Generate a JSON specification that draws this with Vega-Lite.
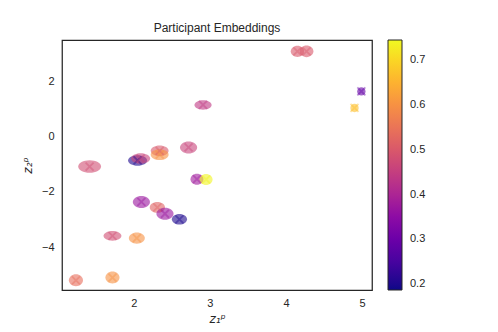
{
  "$schema": "https://vega.github.io/schema/vega-lite/v6.json",
  "width": 310,
  "height": 250,
  "autosize": {"type": "none"},
  "padding": {"left": 62, "top": 40, "right": 126, "bottom": 42},
  "title": {"text": "Participant Embeddings", "fontSize": 12, "fontWeight": "normal", "color": "#262626", "font": "Liberation Sans", "baseline": "alphabetic", "offset": -4},
  "data": {"values": [
    {"x": 4.15, "y": 3.09, "c": 0.50, "w": 0.175, "a": "0.85"},
    {"x": 4.27, "y": 3.09, "c": 0.50, "w": 0.18, "a": "0.85"},
    {"x": 4.99, "y": 1.64, "c": 0.29, "w": 0.11, "a": "1.00"},
    {"x": 4.90, "y": 1.04, "c": 0.67, "w": 0.11, "a": "1.00"},
    {"x": 2.91, "y": 1.15, "c": 0.44, "w": 0.225, "a": "0.55"},
    {"x": 2.72, "y": -0.39, "c": 0.46, "w": 0.225, "a": "0.70"},
    {"x": 2.34, "y": -0.51, "c": 0.50, "w": 0.235, "a": "0.60"},
    {"x": 2.34, "y": -0.65, "c": 0.60, "w": 0.235, "a": "0.60"},
    {"x": 2.05, "y": -0.86, "c": 0.20, "w": 0.25, "a": "0.55"},
    {"x": 2.09, "y": -0.79, "c": 0.46, "w": 0.25, "a": "0.55"},
    {"x": 1.42, "y": -1.08, "c": 0.48, "w": 0.30, "a": "0.55"},
    {"x": 2.83, "y": -1.54, "c": 0.38, "w": 0.17, "a": "0.85"},
    {"x": 2.95, "y": -1.55, "c": 0.74, "w": 0.17, "a": "0.85"},
    {"x": 2.10, "y": -2.36, "c": 0.37, "w": 0.225, "a": "0.70"},
    {"x": 2.31, "y": -2.56, "c": 0.52, "w": 0.20, "a": "0.70"},
    {"x": 2.41, "y": -2.79, "c": 0.37, "w": 0.225, "a": "0.70"},
    {"x": 2.60, "y": -2.99, "c": 0.20, "w": 0.20, "a": "0.70"},
    {"x": 1.72, "y": -3.59, "c": 0.48, "w": 0.235, "a": "0.55"},
    {"x": 2.04, "y": -3.67, "c": 0.60, "w": 0.21, "a": "0.70"},
    {"x": 1.72, "y": -5.10, "c": 0.60, "w": 0.185, "a": "0.85"},
    {"x": 1.24, "y": -5.20, "c": 0.54, "w": 0.185, "a": "0.85"}
  ]},
  "encoding": {
    "x": {"field": "x", "type": "quantitative",
      "scale": {"domain": [1.057, 5.13], "nice": false, "zero": false},
      "axis": {"values": [2, 3, 4, 5], "title": "z₁ᵖ", "titleFont": "DejaVu Sans", "titleFontStyle": "italic", "titleFontWeight": "normal", "titleFontSize": 12, "titleColor": "#262626", "titlePadding": 5}},
    "y": {"field": "y", "type": "quantitative",
      "scale": {"domain": [-5.55, 3.5], "nice": false, "zero": false},
      "axis": {"values": [-4, -2, 0, 2], "title": "z₂ᵖ", "titleFont": "DejaVu Sans", "titleFontStyle": "italic", "titleFontWeight": "normal", "titleFontSize": 12, "titleColor": "#262626", "titlePadding": 7}}
  },
  "layer": [
    {
      "mark": {"type": "point", "filled": true, "fillOpacity": 0.6, "strokeWidth": 0},
      "encoding": {
        "color": {"field": "c", "type": "quantitative",
          "scale": {"type": "linear", "scheme": "plasma", "domain": [0.187, 0.745]},
          "legend": {"type": "gradient", "title": null, "values": [0.2, 0.3, 0.4, 0.5, 0.6, 0.7], "format": ".1f", "gradientLength": 250, "gradientThickness": 14, "offset": 16, "labelOffset": 8, "labelFontSize": 11, "labelColor": "#262626", "labelFont": "Liberation Sans", "gradientStrokeColor": "#262626", "gradientStrokeWidth": 1, "labelOverlap": false}},
        "size": {"field": "w", "type": "quantitative", "scale": {"type": "pow", "exponent": 2, "domain": [0, 0.32], "range": [0, 595], "zero": true}, "legend": null},
        "shape": {"field": "a", "type": "ordinal",
          "scale": {"domain": ["1.00", "0.85", "0.70", "0.60", "0.55"],
            "range": [
              "M -1 0 C -1 -0.552 -0.552 -1 0 -1 C 0.552 -1 1 -0.552 1 0 C 1 0.552 0.552 1 0 1 C -0.552 1 -1 0.552 -1 0 Z",
              "M -1 0 C -1 -0.47 -0.552 -0.85 0 -0.85 C 0.552 -0.85 1 -0.47 1 0 C 1 0.47 0.552 0.85 0 0.85 C -0.552 0.85 -1 0.47 -1 0 Z",
              "M -1 0 C -1 -0.387 -0.552 -0.7 0 -0.7 C 0.552 -0.7 1 -0.387 1 0 C 1 0.387 0.552 0.7 0 0.7 C -0.552 0.7 -1 0.387 -1 0 Z",
              "M -1 0 C -1 -0.331 -0.552 -0.6 0 -0.6 C 0.552 -0.6 1 -0.331 1 0 C 1 0.331 0.552 0.6 0 0.6 C -0.552 0.6 -1 0.331 -1 0 Z",
              "M -1 0 C -1 -0.304 -0.552 -0.55 0 -0.55 C 0.552 -0.55 1 -0.304 1 0 C 1 0.304 0.552 0.55 0 0.55 C -0.552 0.55 -1 0.304 -1 0 Z"
            ]},
          "legend": null}
      }
    },
    {
      "mark": {"type": "point", "filled": false, "strokeOpacity": 0.6, "strokeWidth": 1.8, "size": 64, "shape": "M -1 -1 L 1 1 M -1 1 L 1 -1"},
      "encoding": {
        "stroke": {"field": "c", "type": "quantitative", "scale": {"type": "linear", "scheme": "plasma", "domain": [0.18700001, 0.745]}, "legend": null}
      }
    }
  ],
  "config": {
    "font": "Liberation Sans",
    "view": {"stroke": "#262626", "strokeWidth": 1.25},
    "axis": {"grid": false, "domain": false, "ticks": false, "tickSize": 0, "labelFontSize": 11, "labelColor": "#262626", "labelFont": "Liberation Sans", "labelPadding": 7},
    "axisY": {"labelPadding": 8}
  }
}
